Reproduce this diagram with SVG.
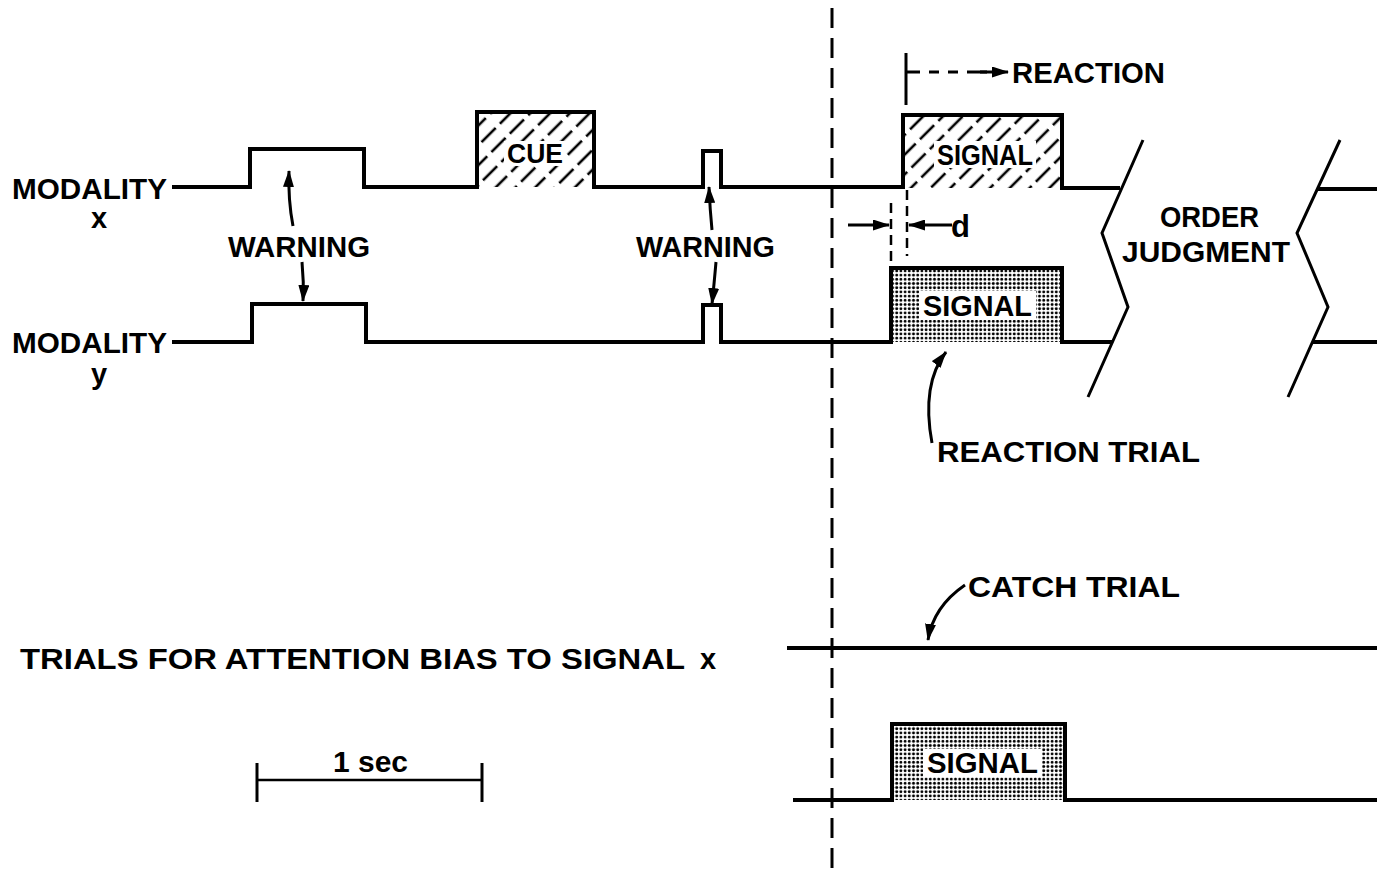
<svg xmlns="http://www.w3.org/2000/svg" width="1377" height="873" viewBox="0 0 1377 873">
<style>
text{font-family:"Liberation Sans","DejaVu Sans",Arial,sans-serif;font-weight:bold;font-size:29px;fill:#000}
.wave{fill:none;stroke:#000;stroke-width:4;stroke-linejoin:miter}
.thin{fill:none;stroke:#000;stroke-width:3}
.arr{fill:none;stroke:#000;stroke-width:3;marker-end:url(#ah)}
.dash{fill:none;stroke:#000;stroke-width:2.5;stroke-dasharray:10 6}
.knock{fill:#fff;stroke:none}
</style>
<defs>
<marker id="ah" markerUnits="userSpaceOnUse" markerWidth="17" markerHeight="11" refX="16" refY="5.5" orient="auto">
<path d="M0,0 L17,5.5 L0,11 Z" fill="#000"/>
</marker>
<pattern id="hatch" patternUnits="userSpaceOnUse" width="14" height="26" patternTransform="rotate(45)">
<line x1="7" y1="0" x2="7" y2="20" stroke="#000" stroke-width="2.6"/>
</pattern>
<pattern id="dots" patternUnits="userSpaceOnUse" width="4.2" height="4.2">
<circle cx="2.1" cy="2.1" r="1.45" fill="#000"/>
</pattern>
</defs>
<rect width="1377" height="873" fill="#fff"/>

<g id="time-marker">
<line x1="832" y1="0" x2="832" y2="873" stroke="#000" stroke-width="3" stroke-dasharray="20 10" stroke-dashoffset="-8"/>
</g>

<g id="modality-x">
<text x="12" y="199" textLength="155" lengthAdjust="spacingAndGlyphs">MODALITY</text>
<text x="91" y="228">x</text>
<rect x="477" y="112" width="117" height="75" fill="url(#hatch)"/>
<rect x="903" y="115" width="159" height="73" fill="url(#hatch)"/>
<path class="wave" d="M172,187 H250 V149 H364 V187 H477 V112 H594 V187 H703 V151 H721 V187 H903 V115 H1062 V188 H1120"/>
<path class="wave" d="M1317,189 H1377"/>
</g>

<g id="cue">
<rect class="knock" x="504" y="141" width="62" height="25"/>
<text x="507" y="163" textLength="56" lengthAdjust="spacingAndGlyphs" style="font-size:28px">CUE</text>
</g>

<g id="signal-x">
<rect class="knock" x="934" y="141" width="102" height="27"/>
<text x="937" y="165" textLength="96" lengthAdjust="spacingAndGlyphs">SIGNAL</text>
</g>

<g id="modality-y">
<text x="12" y="353" textLength="155" lengthAdjust="spacingAndGlyphs">MODALITY</text>
<text x="91" y="384">y</text>
<rect x="891" y="268" width="171" height="74" fill="url(#dots)"/>
<path class="wave" d="M172,342 H252 V304 H366 V342 H703 V305 H721 V342 H891 V268 H1062 V342 H1112"/>
<path class="wave" d="M1313,342 H1377"/>
</g>

<g id="signal-y">
<rect class="knock" x="919" y="291" width="117" height="29"/>
<text x="923" y="316" textLength="109" lengthAdjust="spacingAndGlyphs">SIGNAL</text>
</g>

<g id="warning-1">
<text x="228" y="257" textLength="142" lengthAdjust="spacingAndGlyphs">WARNING</text>
</g>
<g id="warning-2">
<text x="636" y="257" textLength="139" lengthAdjust="spacingAndGlyphs">WARNING</text>
</g>

<g id="reaction">
<line x1="906" y1="53" x2="906" y2="105" stroke="#000" stroke-width="3"/>
<text x="1012" y="83" textLength="153" lengthAdjust="spacingAndGlyphs">REACTION</text>
</g>

<g id="d-label">
<text x="951" y="237" style="font-size:31px">d</text>
</g>

<g id="order-judgment">
<path class="thin" d="M1143,140 L1102,233 L1128,307 L1088,397"/>
<path class="thin" d="M1340,140 L1297,233 L1328,307 L1288,397"/>
<text x="1160" y="227" textLength="99" lengthAdjust="spacingAndGlyphs">ORDER</text>
<text x="1122" y="262" textLength="168" lengthAdjust="spacingAndGlyphs">JUDGMENT</text>
</g>

<g id="reaction-trial">
<text x="937" y="462" textLength="263" lengthAdjust="spacingAndGlyphs">REACTION TRIAL</text>
</g>

<g id="catch-trial">
<text x="968" y="597" textLength="212" lengthAdjust="spacingAndGlyphs">CATCH TRIAL</text>
<path class="wave" d="M787,648 H1377"/>
</g>

<g id="trials-label">
<text x="20" y="669" textLength="665" lengthAdjust="spacingAndGlyphs">TRIALS FOR ATTENTION BIAS TO SIGNAL</text>
<text x="700" y="669">x</text>
</g>

<g id="signal-trial">
<rect x="892" y="724" width="173" height="76" fill="url(#dots)"/>
<path class="wave" d="M793,800 H892 V724 H1065 V800 H1377"/>
<rect class="knock" x="923" y="749" width="119" height="28"/>
<text x="927" y="773" textLength="111" lengthAdjust="spacingAndGlyphs">SIGNAL</text>
</g>

<g id="scale-bar">
<line x1="257" y1="780" x2="482" y2="780" stroke="#000" stroke-width="2.5"/>
<line x1="257" y1="763" x2="257" y2="802" stroke="#000" stroke-width="3"/>
<line x1="482" y1="763" x2="482" y2="802" stroke="#000" stroke-width="3"/>
<text x="333" y="772" textLength="75" lengthAdjust="spacingAndGlyphs">1 sec</text>
</g>

<g id="connectors">
<path class="arr" d="M293,226 Q288,200 289,171"/>
<path class="arr" d="M302,262 Q304,282 303,301"/>
<path class="arr" d="M712,230 Q710,210 709,187"/>
<path class="arr" d="M716,262 Q714,285 712,304"/>
<path d="M906,72 H990" fill="none" stroke="#000" stroke-width="3" stroke-dasharray="14 9 10 9 10 9 20"/>
<path d="M980,72 H1008" class="arr"/>
<line x1="848" y1="225" x2="889" y2="225" class="arr"/>
<line x1="952" y1="225" x2="909" y2="225" class="arr"/>
<line x1="891" y1="203" x2="891" y2="264" class="dash"/>
<line x1="907" y1="190" x2="907" y2="256" class="dash"/>
<path class="arr" d="M932,443 C925,405 928,375 946,352"/>
<path class="arr" d="M965,585 C946,598 932,615 928,640"/>
</g>
</svg>
